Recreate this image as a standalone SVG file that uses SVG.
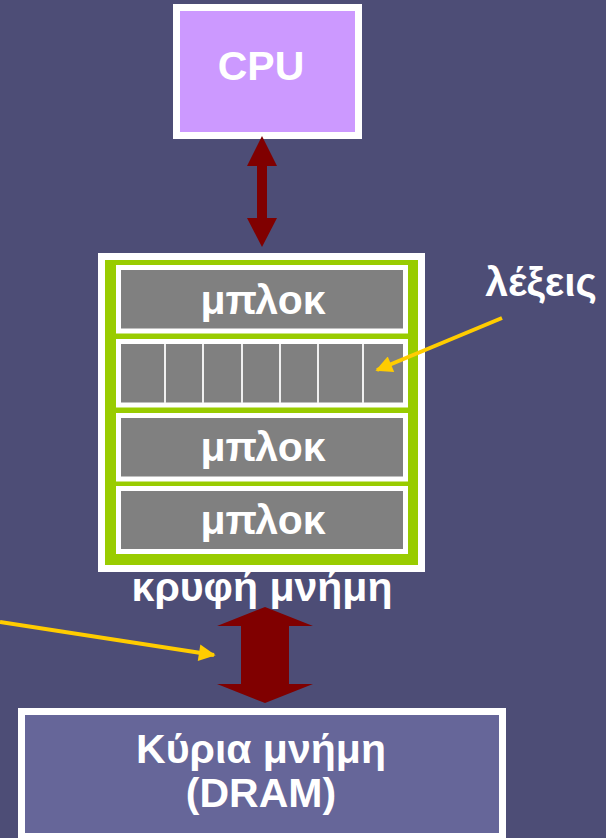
<svg xmlns="http://www.w3.org/2000/svg" width="606" height="838" viewBox="0 0 606 838">
<defs>
<style>
.t{font-family:"Liberation Sans",Arial,sans-serif;font-weight:bold;fill:#FFFFFF;text-anchor:middle;font-size:41px}
.blk{fill:#808080;stroke:#FFFFFF;stroke-width:5}
.div{stroke:#F0F0F0;stroke-width:2}
.ptr{stroke:#FFCC00;stroke-width:4;fill:none}
</style>
<marker id="yh" viewBox="0 0 10 10" refX="9" refY="5" markerWidth="5" markerHeight="4.2" orient="auto" markerUnits="strokeWidth">
<path d="M0,0 L10,5 L0,10 z" fill="#FFCC00"/>
</marker>
</defs>
<rect x="0" y="0" width="606" height="838" fill="#4D4D76"/>
<g id="cpu">
<rect x="176.5" y="7.5" width="182" height="128" fill="#CC99FF" stroke="#FFFFFF" stroke-width="7"/>
<text class="t" x="261" y="80">CPU</text>
</g>
<g id="cache">
<rect x="98" y="253" width="327" height="319" fill="#FFFFFF"/>
<rect x="105" y="260" width="313" height="305" fill="#99CC00"/>
<g id="block1">
<rect class="blk" x="118.5" y="267.5" width="287" height="63.5"/>
<text class="t" x="263" y="314">μπλοκ</text>
</g>
<g id="block2">
<rect class="blk" x="118.5" y="341.5" width="287" height="63.5"/>
<line class="div" x1="165" y1="344" x2="165" y2="403"/>
<line class="div" x1="203" y1="344" x2="203" y2="403"/>
<line class="div" x1="242" y1="344" x2="242" y2="403"/>
<line class="div" x1="280" y1="344" x2="280" y2="403"/>
<line class="div" x1="318" y1="344" x2="318" y2="403"/>
<line class="div" x1="363" y1="344" x2="363" y2="403"/>
</g>
<g id="block3">
<rect class="blk" x="118.5" y="415.5" width="287" height="63.5"/>
<text class="t" x="263" y="461">μπλοκ</text>
</g>
<g id="block4">
<rect class="blk" x="118.5" y="488.5" width="287" height="63"/>
<text class="t" x="263" y="534">μπλοκ</text>
</g>
<text class="t" x="262" y="601">κρυφή μνήμη</text>
</g>
<g id="words-label">
<text class="t" x="541" y="296">λέξεις</text>
</g>
<g id="dram">
<rect x="21.5" y="711.5" width="481" height="125" fill="#666699" stroke="#FFFFFF" stroke-width="7"/>
<text class="t" x="261" y="763">Κύρια μνήμη</text>
<text class="t" x="261" y="807">(DRAM)</text>
</g>
<g id="connectors">
<polygon points="262,136 277,166 267,166 267,218 277,218 262,247 247,218 257,218 257,166 247,166" fill="#800000"/>
<polygon points="265,607 313,626 289,626 289,684 313,684 265,703 217,684 241,684 241,626 217,626" fill="#800000"/>
<line class="ptr" x1="502" y1="318" x2="377" y2="370" marker-end="url(#yh)"/>
<line class="ptr" x1="0" y1="622" x2="214" y2="655" marker-end="url(#yh)"/>
</g>
</svg>
